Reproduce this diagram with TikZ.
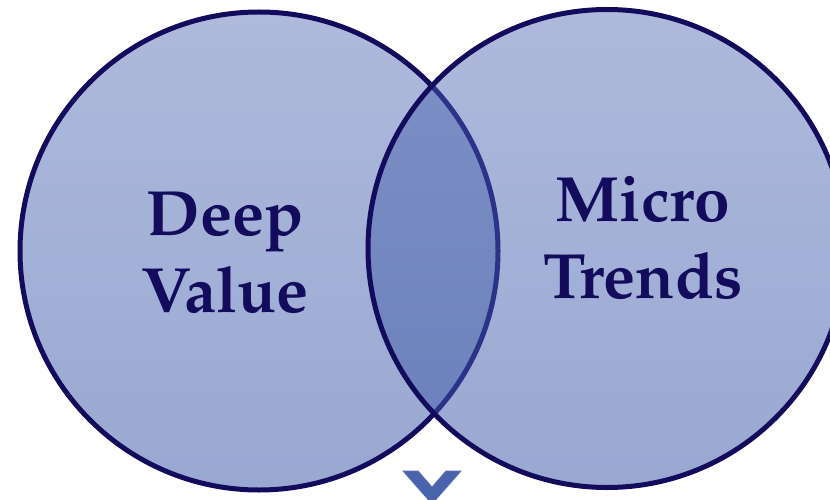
\documentclass[tikz,border=0pt]{standalone}
\usepackage[T1]{fontenc}
\usepackage{tikz}
\usepackage{xcolor}
\usetikzlibrary{
    calc,
    positioning
}

\definecolor{venntop}{HTML}{AEB9DC}
\definecolor{vennbot}{HTML}{99A8D2}
\definecolor{overtop}{HTML}{7E90C6}
\definecolor{overbot}{HTML}{6A7FBB}
\definecolor{vennline}{HTML}{130B5C}
\definecolor{overline}{HTML}{2B3388}
\definecolor{chevfill}{HTML}{4963AC}
\definecolor{chevline}{HTML}{5A72B4}

\tikzset{
    venntext/.style={align=center, text=vennline, inner sep=0pt,
        font=\fontfamily{ppl}\bfseries\fontsize{64}{77}\selectfont},
    vennring/.style={draw=vennline, line width=5pt}
}

\begin{document}
\begin{tikzpicture}[x=1pt, y=1pt]
                        \useasboundingbox (0, 0) rectangle (830, 499);
                        \clip (0, 0) rectangle (830, 499);

                        \coordinate (deep) at (259, 248);
                        \coordinate (micro) at (607, 250.5);

                        \shade[top color=venntop, bottom color=vennbot] (deep) circle (239);
                        \draw[vennring] (deep) circle (239);
                        \shade[top color=venntop, bottom color=vennbot] (micro) circle (239);

                        \begin{scope}
                            \clip (deep) circle (239);
                            \shade[top color=overtop, bottom color=overbot] (micro) circle (239);
                        \end{scope}
                        \begin{scope}
                            \clip (micro) circle (239);
                            \draw[line width=5pt, draw=overline] (deep) circle (239);
                        \end{scope}
                        \draw[vennring] (micro) circle (239);

                        \node[venntext] (deepvalue) at (225, 246) {Deep\\Value};
                        \node[venntext] (microtrends) at (643, 261) {Micro\\Trends};

                        \draw[fill=chevfill, draw=chevline, line width=0.8pt]
                        (403, 28) -- (418, 28) -- (432, 12) -- (446, 28)
                        -- (461, 28) -- (432, -5) -- cycle;
                    \end{tikzpicture}
\end{document}
